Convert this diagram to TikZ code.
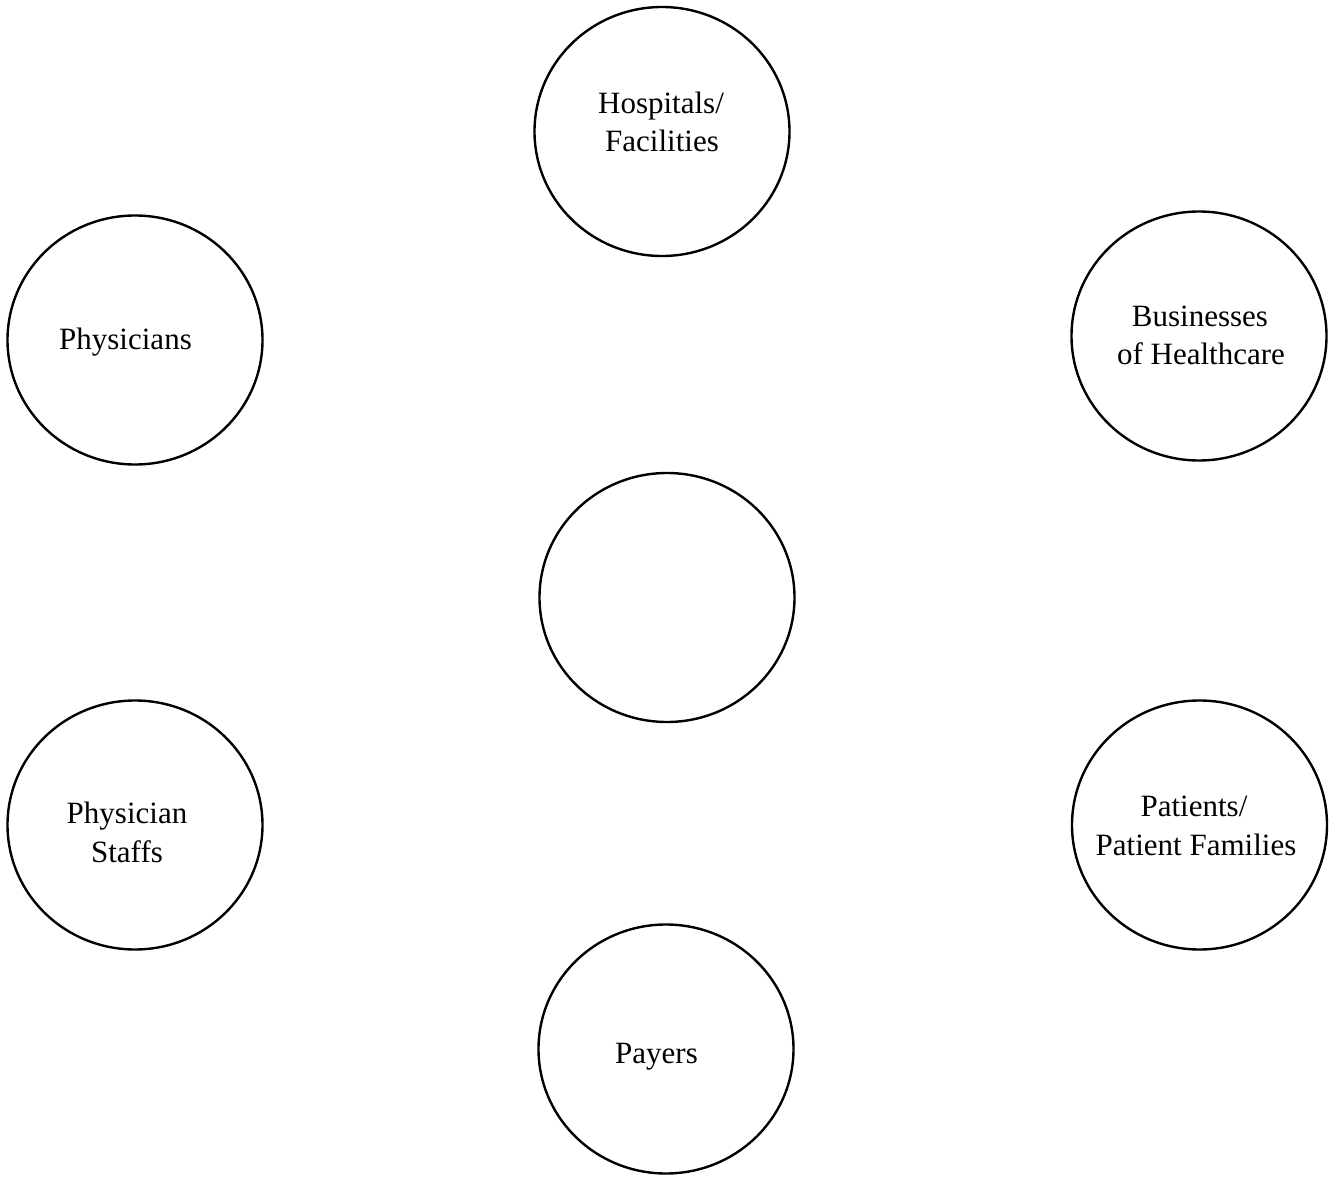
\documentclass[tikz,border=0pt]{standalone}
\usepackage{fontspec}
\setmainfont{Liberation Serif}
\usetikzlibrary{shapes.geometric}
\begin{document}
\begin{tikzpicture}[x=1pt,y=-1pt,
  bubble/.style={ellipse,draw=black,line width=2.4pt,minimum width=255pt,minimum height=249pt,inner sep=0pt},
  lbl/.style={anchor=base,inner sep=0pt,font=\fontsize{31}{38}\selectfont}]
\useasboundingbox (0,0) rectangle (1331,1177);
\node[bubble] (hosp) at (662,131.5) {};
\node[bubble] (phys) at (135,340) {};
\node[bubble] (bus) at (1199,336) {};
\node[bubble] (core) at (667,597.5) {};
\node[bubble] (staff) at (135,825) {};
\node[bubble] (pat) at (1199.5,825) {};
\node[bubble] (pay) at (666,1049) {};
\node[lbl] (hosp1) at (661,114) {Hospitals/};
\node[lbl] (hosp2) at (662,152) {Facilities};
\node[lbl] (phys1) at (125.5,349) {Physicians};
\node[lbl] (bus1) at (1200,326) {Businesses};
\node[lbl] (bus2) at (1201,364) {of Healthcare};
\node[lbl] (staff1) at (127,823) {Physician};
\node[lbl] (staff2) at (127,862) {Staffs};
\node[lbl] (pat1) at (1194,816) {Patients/};
\node[lbl] (pat2) at (1196,855) {Patient Families};
\node[lbl] (pay1) at (656.5,1063) {Payers};
\end{tikzpicture}
\end{document}
